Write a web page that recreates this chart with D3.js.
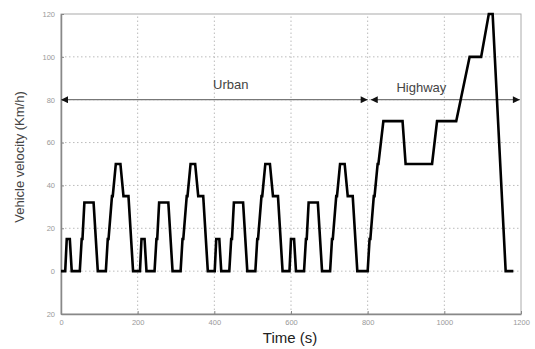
<!DOCTYPE html>
<html>
<head>
<meta charset="utf-8">
<script src="https://cdn.jsdelivr.net/npm/d3@7"></script>
<style>
  body { margin: 0; background: #fff; }
  svg { font-family: "Liberation Sans", Arial, sans-serif; }
</style>
</head>
<body>
<div id="chart"></div>
<script>
// NEDC: 4 urban (ECE-15) cycles, then the extra-urban (highway) part
const urbanTime = [
  0, 11, 15, 23, 28, 49, 54, 56, 61, 85, 96, 117, 122, 124, 133, 135, 143, 155, 163, 176, 188, 195,
  206, 210, 218, 223, 244, 249, 251, 256, 280, 291, 312, 317, 319, 328, 330, 338, 350, 358, 371, 383, 390,
  401, 405, 413, 418, 439, 444, 446, 451, 475, 486, 507, 512, 514, 523, 525, 533, 545, 553, 566, 578, 585,
  596, 600, 608, 613, 634, 639, 641, 646, 670, 681, 702, 707, 709, 718, 720, 728, 740, 748, 761, 773, 780
];
const urbanSpeed = [
  0, 0, 15, 15, 0, 0, 15, 15, 32, 32, 0, 0, 15, 15, 35, 35, 50, 50, 35, 35, 0, 0,
  0, 15, 15, 0, 0, 15, 15, 32, 32, 0, 0, 15, 15, 35, 35, 50, 50, 35, 35, 0, 0,
  0, 15, 15, 0, 0, 15, 15, 32, 32, 0, 0, 15, 15, 35, 35, 50, 50, 35, 35, 0, 0,
  0, 15, 15, 0, 0, 15, 15, 32, 32, 0, 0, 15, 15, 35, 35, 50, 50, 35, 35, 0, 0
];
const highwayTime = [800, 805, 807, 816, 818, 826, 828, 841, 891, 899, 968, 981, 1031, 1066, 1096, 1116, 1126, 1160, 1180];
const highwaySpeed = [0, 15, 15, 35, 35, 50, 50, 70, 70, 50, 50, 70, 70, 100, 100, 120, 120, 0, 0];

const xTicks = [0, 200, 400, 600, 800, 1000, 1200];
const xTickLabels = ["0", "200", "400", "600", "800", "1000", "1200"];
const yTicks = [-20, 0, 20, 40, 60, 80, 100, 120];
const yTickLabels = ["20", "0", "20", "40", "60", "80", "100", "120"];

// section arrows [start, end] in seconds, drawn at 80 km/h
const sections = [
  { name: "Urban", from: 0, to: 800, labelAt: 443 },
  { name: "Highway", from: 808, to: 1197, labelAt: 940 }
];

const width = 535, height = 349;
const margin = { top: 14, right: 14, bottom: 35, left: 61 };

const data = urbanTime.map((t, i) => ({ t, v: urbanSpeed[i] }))
  .concat(highwayTime.map((t, i) => ({ t, v: highwaySpeed[i] })));

const svg = d3.select("#chart").append("svg")
  .attr("width", width)
  .attr("height", height);

const x = d3.scaleLinear().domain([0, 1200]).range([margin.left, width - margin.right]);
const y = d3.scaleLinear().domain([-20, 120]).range([height - margin.bottom, margin.top]);

// grid
svg.append("g").selectAll("line").data(xTicks.slice(1, -1)).join("line")
  .attr("x1", d => x(d)).attr("x2", d => x(d))
  .attr("y1", y(-20)).attr("y2", y(120))
  .attr("stroke", "#bbb").attr("stroke-width", 1).attr("stroke-dasharray", "1.5,2.5");
svg.append("g").selectAll("line").data(yTicks.slice(1, -1)).join("line")
  .attr("x1", x(0)).attr("x2", x(1200))
  .attr("y1", d => y(d)).attr("y2", d => y(d))
  .attr("stroke", "#bbb").attr("stroke-width", 1).attr("stroke-dasharray", "1.5,2.5");

// frame
svg.append("rect")
  .attr("x", x(0)).attr("y", y(120))
  .attr("width", x(1200) - x(0)).attr("height", y(-20) - y(120))
  .attr("fill", "none").attr("stroke", "#aaa").attr("stroke-width", 1);

// axes
const xAxis = svg.append("g")
  .attr("transform", `translate(0,${y(-20)})`)
  .call(d3.axisBottom(x).tickValues(xTicks).tickFormat((d, i) => xTickLabels[i])
    .tickSizeInner(-3).tickSizeOuter(0).tickPadding(6));
const yAxis = svg.append("g")
  .attr("transform", `translate(${x(0)},0)`)
  .call(d3.axisLeft(y).tickValues(yTicks).tickFormat((d, i) => yTickLabels[i])
    .tickSizeInner(-3).tickSizeOuter(0).tickPadding(6));
[xAxis, yAxis].forEach(a => {
  a.select(".domain").attr("stroke", "#888").attr("stroke-width", 1.5);
  a.selectAll(".tick line").attr("stroke", "#888");
  a.selectAll(".tick text").attr("fill", "#999").style("font-size", "7.5px");
});

// section arrows
const defs = svg.append("defs");
defs.append("marker")
  .attr("id", "arrow")
  .attr("viewBox", "0 0 10 10")
  .attr("refX", 10).attr("refY", 5)
  .attr("markerWidth", 10).attr("markerHeight", 7)
  .attr("markerUnits", "userSpaceOnUse")
  .attr("orient", "auto-start-reverse")
  .append("path").attr("d", "M0,0 L10,5 L0,10 Z").attr("fill", "#111");

svg.append("g").selectAll("line").data(sections).join("line")
  .attr("x1", d => x(d.from)).attr("x2", d => x(d.to))
  .attr("y1", y(80)).attr("y2", y(80))
  .attr("stroke", "#777").attr("stroke-width", 1.2)
  .attr("marker-start", "url(#arrow)").attr("marker-end", "url(#arrow)");

svg.append("g").selectAll("text").data(sections).join("text")
  .attr("x", d => x(d.labelAt))
  .attr("y", (d, i) => y(80) - (i === 0 ? 11 : 8))
  .attr("text-anchor", "middle")
  .attr("fill", "#444")
  .style("font-size", "13px")
  .text(d => d.name);

// velocity trace
svg.append("path")
  .datum(data)
  .attr("fill", "none")
  .attr("stroke", "#000")
  .attr("stroke-width", 2.6)
  .attr("stroke-linejoin", "miter")
  .attr("d", d3.line().x(d => x(d.t)).y(d => y(d.v)));

// axis titles
svg.append("text")
  .attr("x", 290).attr("y", 343)
  .attr("text-anchor", "middle")
  .attr("fill", "#222")
  .style("font-size", "15px")
  .text("Time (s)");
svg.append("text")
  .attr("transform", "translate(24,157) rotate(-90)")
  .attr("text-anchor", "middle")
  .attr("fill", "#444")
  .style("font-size", "13px")
  .text("Vehicle velocity (Km/h)");
</script>
</body>
</html>
